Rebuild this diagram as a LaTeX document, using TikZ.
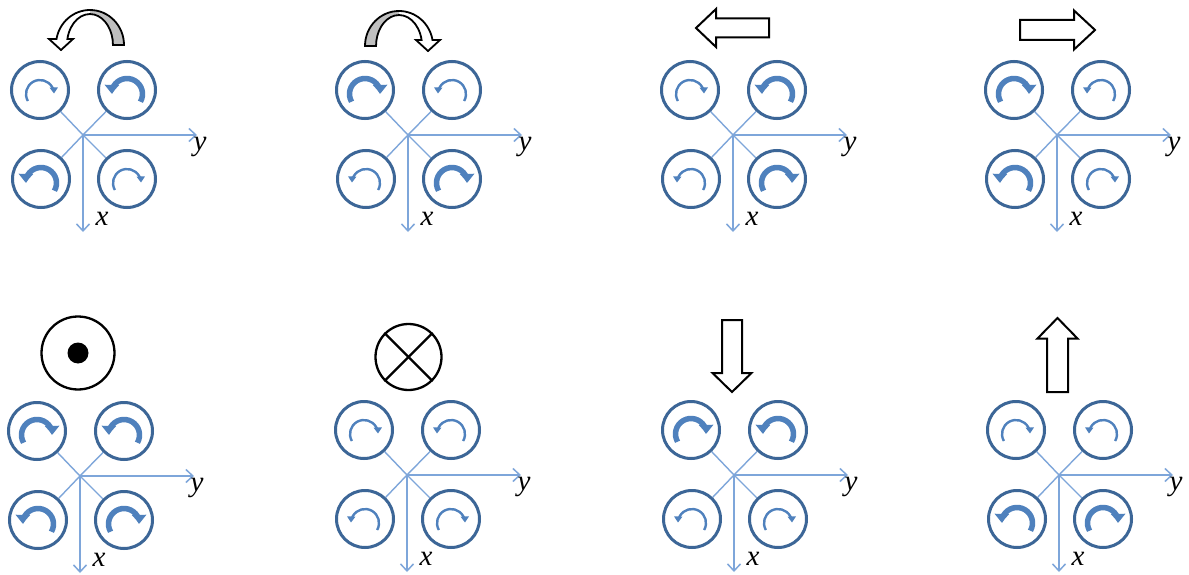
\documentclass[tikz,border=0pt]{standalone}
\usepackage{fontspec}
\setmainfont{Liberation Serif}
\usetikzlibrary{arrows.meta,calc}
\definecolor{rimblue}{HTML}{3C6697}
\definecolor{spinblue}{HTML}{4F81BD}
\definecolor{axisblue}{HTML}{7EA6DA}
\tikzset{
  rotor/.style={circle, draw=rimblue, line width=3pt, minimum size=57pt, inner sep=0pt},
  diag/.style={draw=axisblue, line width=1.4pt},
  axisline/.style={draw=axisblue, line width=1.5pt, -{Straight Barb[length=7pt,width=13pt]}},
  axlabel/.style={inner sep=0pt, anchor=base, font=\fontsize{29}{29}\selectfont\itshape},
  spinA/.style={draw=spinblue, line width=5.5pt, -{Triangle[width=14pt,length=8.5pt]}, /utils/exec={\def\spinr{15.5}}},
  spinB/.style={draw=spinblue, line width=2.4pt, -{Triangle[width=8pt,length=6pt]}, /utils/exec={\def\spinr{14}}},
  blockarrow/.style={draw=black, fill=white, line width=2pt, line join=miter},
  uturnline/.style={draw=black, line width=1.8pt, line join=miter},
  symring/.style={circle, draw=black, line width=2.3pt, inner sep=0pt},
}
\newcommand\rotcw[2]{\draw[#2] ($(#1)+(0,4)+(150:\spinr)$) arc[start angle=150,end angle=358,radius=\spinr];}
\newcommand\rotccw[2]{\draw[#2] ($(#1)+(0,4)+(30:\spinr)$) arc[start angle=30,end angle=-178,radius=\spinr];}
% #1 prefix, #2 centre, #3 TL, #4 TR, #5 BL, #6 BR
\newcommand\quadpanel[6]{%
  \begin{scope}[shift={#2}]
    \coordinate (#1c) at (0,0);
    \coordinate (#1ye) at (114,0);
    \coordinate (#1xe) at (0,97);
    \node[rotor] (#1tl) at (-43,-45) {};
    \node[rotor] (#1tr) at (44,-45) {};
    \node[rotor] (#1bl) at (-42,44) {};
    \node[rotor] (#1br) at (44,44) {};
    \draw[diag] (#1c) -- (#1tl);
    \draw[diag] (#1c) -- (#1tr);
    \draw[diag] (#1c) -- (#1bl);
    \draw[diag] (#1c) -- (#1br);
    \draw[axisline] (#1c) -- (#1ye);
    \draw[axisline] (#1c) -- (#1xe);
    \node[axlabel] (#1ylab) at (117,15) {y};
    \node[axlabel] (#1xlab) at (19,90) {x};
  \end{scope}
  \rotcw{#1tl}{#3}
  \rotccw{#1tr}{#4}
  \rotccw{#1bl}{#5}
  \rotcw{#1br}{#6}
}
% curved arrow, head on the left (local coordinates)
\newcommand\uturn{%
  \path[fill=white] (34,0) arc[start angle=0,end angle=-170,x radius=34,y radius=35]
    -- (-41,-6) -- (-29,5) -- (-17,-6) -- (-22.6,-6)
    arc[start angle=-168.8,end angle=0,x radius=23,y radius=31] -- cycle;
  \begin{scope}
    \clip (-2,-40) rectangle (40,5);
    \fill[gray!50] (34,0) arc[start angle=0,end angle=-90,x radius=34,y radius=35]
      -- (0,-31) arc[start angle=-90,end angle=0,x radius=23,y radius=31] -- cycle;
  \end{scope}
  \path[uturnline] (34,0) arc[start angle=0,end angle=-170,x radius=34,y radius=35]
    -- (-41,-6) -- (-29,5) -- (-17,-6) -- (-22.6,-6)
    arc[start angle=-168.8,end angle=0,x radius=23,y radius=31] -- cycle;
}
\begin{document}
\begin{tikzpicture}[x=1pt,y=-1pt]
\useasboundingbox (0,0) rectangle (1189,575);
\fill[white] (0,0) rectangle (1189,575);

\quadpanel{p1}{(83,135)}{spinB}{spinA}{spinA}{spinB}
\quadpanel{p2}{(408,135)}{spinA}{spinB}{spinB}{spinA}
\quadpanel{p3}{(733,135)}{spinB}{spinA}{spinB}{spinA}
\quadpanel{p4}{(1057,135)}{spinA}{spinB}{spinA}{spinB}
\quadpanel{p5}{(80,476)}{spinA}{spinA}{spinA}{spinA}
\quadpanel{p6}{(407,475)}{spinB}{spinB}{spinB}{spinB}
\quadpanel{p7}{(734,475)}{spinA}{spinA}{spinB}{spinB}
\quadpanel{p8}{(1059,475)}{spinB}{spinB}{spinA}{spinA}

% panel 1: curved arrow turning left
\begin{scope}[shift={(90,45)}]
  \uturn
\end{scope}
% panel 2: curved arrow turning right
\begin{scope}[shift={(399,46)}, xscale=-1]
  \uturn
\end{scope}

% panel 3: left arrow
\draw[blockarrow] (696,28) -- (716,9) -- (716,18.5) -- (769,18.5) -- (769,37.5)
  -- (716,37.5) -- (716,47) -- cycle;
% panel 4: right arrow
\draw[blockarrow] (1095,30) -- (1074,10.5) -- (1074,20) -- (1020,20) -- (1020,40)
  -- (1074,40) -- (1074,49.5) -- cycle;
% panel 7: down arrow
\draw[blockarrow] (732,392) -- (712.5,373) -- (722,373) -- (722,320) -- (742,320)
  -- (742,373) -- (751.5,373) -- cycle;
% panel 8: up arrow
\draw[blockarrow] (1057.5,318) -- (1037.5,338.5) -- (1047,338.5) -- (1047,392)
  -- (1068,392) -- (1068,338.5) -- (1077.5,338.5) -- cycle;

% panel 5: out of page
\node[symring, minimum size=73pt] (p5sym) at (78,353) {};
\node[circle, fill=black, inner sep=0pt, minimum size=21pt] (p5dot) at (p5sym) {};
% panel 6: into page
\node[symring, minimum size=66pt] (p6sym) at (408.5,357) {};
\draw[line width=2.3pt] (p6sym.north west) -- (p6sym.south east);
\draw[line width=2.3pt] (p6sym.north east) -- (p6sym.south west);
\end{tikzpicture}
\end{document}
